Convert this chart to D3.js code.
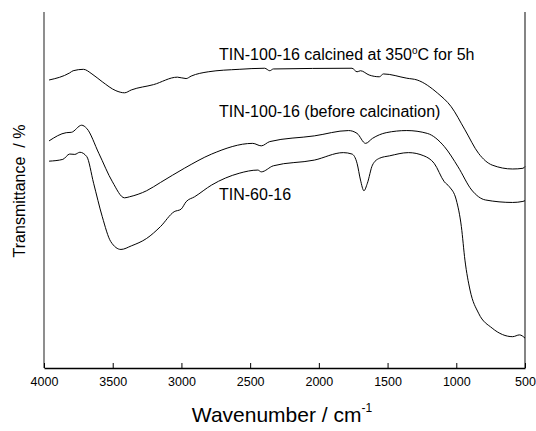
<!DOCTYPE html>
<html>
<head>
<meta charset="utf-8">
<script src="https://cdn.jsdelivr.net/npm/d3@7"></script>
<style>
  body { margin: 0; background: #fff; }
  text { font-family: "Liberation Sans", Arial, sans-serif; fill: #000; }
</style>
</head>
<body>
<svg id="chart" width="536" height="431"></svg>
<script>
// wavenumber (cm-1) and transmittance (a.u.)
const calcinedWn = [3963, 3813, 3788, 3713, 3651, 3576, 3477, 3414, 3365, 3203, 3029, 2966, 2929, 2805, 2580, 2394, 2357, 2331, 1759, 1722, 1697, 1634, 1560, 1530, 1360, 1285, 1136, 1037, 937, 838, 739, 590, 515, 500];
const calcinedT = [80.9, 82.9, 83.5, 83.9, 82.6, 80.4, 77.9, 77.3, 78.1, 79.6, 81.7, 81.3, 82.0, 83.2, 83.9, 84.2, 83.5, 84.0, 84.2, 83.2, 83.5, 82.3, 81.8, 82.6, 81.4, 80.9, 77.2, 73.4, 66.9, 60.3, 57.0, 55.9, 56.1, 56.6];

const beforeWn = [3963, 3838, 3801, 3726, 3689, 3601, 3502, 3414, 3377, 3253, 3153, 2979, 2780, 2481, 2419, 2357, 2033, 1784, 1722, 1660, 1610, 1510, 1360, 1211, 1087, 987, 888, 788, 590, 515, 500];
const beforeT = [63.8, 66.1, 66.2, 68.2, 67.3, 60.3, 52.3, 47.8, 48.1, 49.8, 52.1, 56.1, 60.1, 63.1, 62.4, 63.6, 65.2, 66.7, 65.9, 63.1, 64.5, 66.1, 66.7, 65.9, 62.2, 56.5, 50.0, 47.2, 46.5, 46.8, 47.0];

const tin60Wn = [3963, 3863, 3813, 3776, 3739, 3689, 3639, 3576, 3514, 3440, 3365, 3253, 3153, 3053, 3003, 2966, 2904, 2780, 2580, 2444, 2419, 2331, 2033, 1822, 1759, 1722, 1697, 1672, 1647, 1610, 1560, 1485, 1348, 1236, 1161, 1087, 1050, 1000, 963, 937, 900, 838, 739, 590, 540, 500];
const tin60T = [58.1, 58.6, 60.1, 60.0, 60.6, 59.4, 51.9, 42.5, 35.5, 33.3, 34.3, 36.4, 39.7, 43.9, 44.6, 46.7, 48.1, 51.4, 54.7, 55.6, 55.1, 56.8, 58.4, 60.5, 60.1, 57.5, 52.8, 49.8, 51.9, 57.0, 58.9, 59.6, 60.5, 59.6, 57.5, 52.3, 50.9, 47.2, 39.7, 30.3, 21.9, 15.4, 11.2, 8.8, 9.3, 8.4];

const xTicks = [4000, 3500, 3000, 2500, 2000, 1500, 1000, 500];

const series = [
  { wn: calcinedWn, t: calcinedT },
  { wn: beforeWn, t: beforeT },
  { wn: tin60Wn, t: tin60T }
];

const svg = d3.select("#chart");
const plotLeft = 44, plotRight = 525, plotTop = 12, plotBottom = 368;

const x = d3.scaleLinear().domain([4000, 500]).range([plotLeft, plotRight]);
const y = d3.scaleLinear().domain([0, 100]).range([plotBottom, plotTop]);

// frame (left and right sides only)
svg.append("line").attr("x1", plotLeft).attr("x2", plotLeft).attr("y1", plotTop).attr("y2", plotBottom)
  .attr("stroke", "#444").attr("stroke-width", 1.2);
svg.append("line").attr("x1", plotRight).attr("x2", plotRight).attr("y1", plotTop).attr("y2", plotBottom)
  .attr("stroke", "#333").attr("stroke-width", 1.2);

const xAxis = svg.append("g")
  .attr("transform", `translate(0,${plotBottom})`)
  .call(d3.axisBottom(x).tickValues(xTicks).tickFormat(d3.format("d"))
    .tickSizeInner(-5).tickSizeOuter(0).tickPadding(9));
xAxis.select(".domain").attr("stroke", "#000").attr("stroke-width", 1.3);
xAxis.selectAll(".tick line").attr("stroke", "#000");
xAxis.selectAll("text").style("font-size", "12.5px").attr("font-family", null);

// spectra
const line = d3.line()
  .x(d => x(d[0]))
  .y(d => y(d[1]))
  .curve(d3.curveMonotoneX);

series.forEach(s => {
  svg.append("path")
    .datum(d3.zip(s.wn, s.t))
    .attr("fill", "none")
    .attr("stroke", "#000")
    .attr("stroke-width", 1)
    .attr("d", line);
});

// curve labels
const lab1 = svg.append("text").attr("x", 219).attr("y", 60).style("font-size", "16px");
lab1.append("tspan").text("TIN-100-16 calcined at 350");
lab1.append("tspan").attr("dy", -6).style("font-size", "10px").text("o");
lab1.append("tspan").attr("dy", 6).text("C for 5h");

svg.append("text").attr("x", 219).attr("y", 117).style("font-size", "16px")
  .text("TIN-100-16 (before calcination)");
svg.append("text").attr("x", 219).attr("y", 200).style("font-size", "16px")
  .text("TIN-60-16");

// axis titles
const xt = svg.append("text").attr("x", 282).attr("y", 422).attr("text-anchor", "middle")
  .style("font-size", "21px");
xt.append("tspan").text("Wavenumber / cm");
xt.append("tspan").attr("dy", -10).style("font-size", "12px").text("-1");

svg.append("text")
  .attr("transform", `translate(25,191) rotate(-90)`)
  .attr("text-anchor", "middle")
  .style("font-size", "16px")
  .style("white-space", "pre")
  .text("Transmittance  / %");
</script>
</body>
</html>
